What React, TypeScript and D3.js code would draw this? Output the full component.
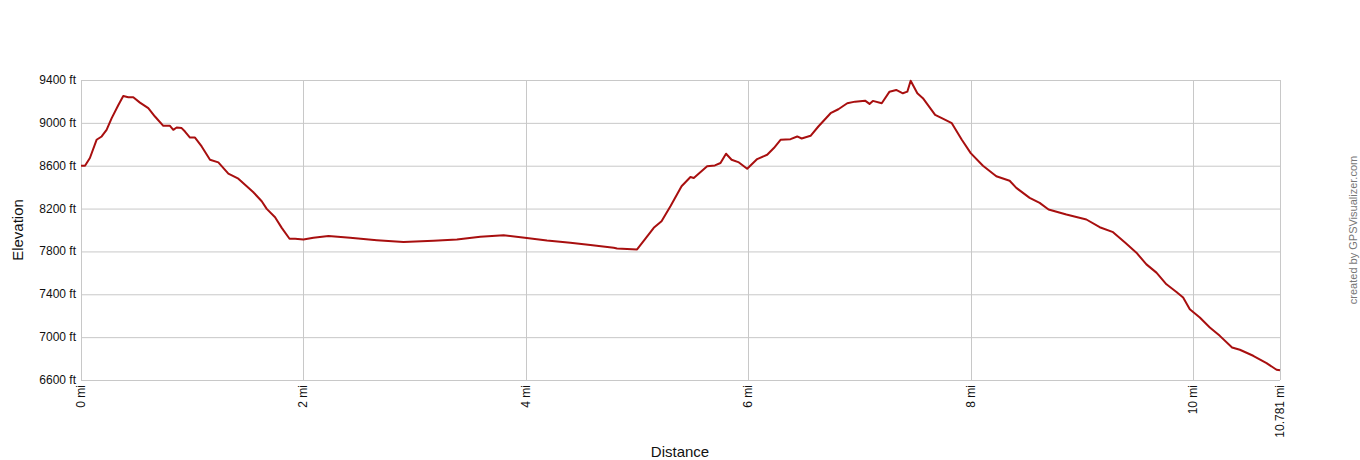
import * as d3 from "d3";
import {useEffect, useRef} from "react";

// trail profile (miles, feet)
const distanceMi = [
    0, 0.036, 0.08, 0.14, 0.186, 0.23, 0.276, 0.336, 0.38, 0.425, 0.47, 0.53, 0.605, 0.665, 0.74, 0.80, 0.83, 0.86,
    0.905, 0.935, 0.98, 1.025, 1.085, 1.16, 1.235, 1.325, 1.415, 1.49, 1.55, 1.625, 1.67, 1.745, 1.805, 1.875, 1.925,
    2.0, 2.09, 2.225, 2.42, 2.66, 2.90, 3.17, 3.38, 3.59, 3.80, 3.99, 4.19, 4.40, 4.58, 4.79, 4.82, 5.0,
    5.07, 5.15, 5.22, 5.30, 5.40, 5.48, 5.51, 5.63, 5.70, 5.75, 5.80, 5.85, 5.91, 5.99, 6.08, 6.17, 6.23, 6.29,
    6.38, 6.44, 6.48, 6.56, 6.63, 6.74, 6.81, 6.89, 6.96, 7.05, 7.09, 7.12, 7.20, 7.27, 7.33, 7.39, 7.43, 7.46,
    7.52, 7.57, 7.68, 7.74, 7.83, 7.92, 8.0, 8.11, 8.23, 8.35, 8.41, 8.53, 8.62, 8.70, 8.86, 9.04, 9.16, 9.28,
    9.39, 9.49, 9.58, 9.67, 9.76, 9.85, 9.91, 9.97, 10.06, 10.15, 10.24, 10.35, 10.42, 10.54, 10.66, 10.75, 10.781
];
const elevationFt = [
    8600, 8600, 8672, 8842, 8873, 8935, 9044, 9167, 9251, 9239, 9239, 9189, 9137, 9059, 8972, 8972, 8935, 8957,
    8951, 8919, 8863, 8863, 8780, 8656, 8631, 8526, 8479, 8408, 8352, 8268, 8197, 8119, 8020, 7918, 7918,
    7912, 7928, 7943, 7928, 7905, 7887, 7900, 7912, 7937, 7952, 7928, 7902, 7881, 7859, 7834, 7828, 7819,
    7912, 8020, 8082, 8222, 8408, 8495, 8486, 8594, 8603, 8625, 8712, 8656, 8634, 8572, 8662, 8702, 8765, 8842,
    8848, 8873, 8854, 8879, 8966, 9090, 9127, 9183, 9198, 9207, 9177, 9205, 9183, 9291, 9307, 9276, 9291, 9393,
    9276, 9230, 9074, 9044, 8997, 8842, 8718, 8600, 8501, 8460, 8393, 8300, 8253, 8191, 8144, 8098, 8026, 7980,
    7881, 7788, 7679, 7602, 7493, 7422, 7369, 7260, 7183, 7090, 7012, 6904, 6882, 6826, 6758, 6696, 6690
];
const yTicks = [6600, 7000, 7400, 7800, 8200, 8600, 9000, 9400];
const xTicks = [0, 2, 4, 6, 8, 10, 10.781];

const W = 1360, H = 460;
const margin = {top: 80, right: 80, bottom: 80, left: 81};

export default function App() {
    const ref = useRef<SVGSVGElement>(null);

    useEffect(() => {
        const svg = d3.select(ref.current).html("");
        const w = W - margin.left - margin.right;
        const h = H - margin.top - margin.bottom;

        const x = d3.scaleLinear().domain([0, 10.781]).range([0, w]);
        const y = d3.scaleLinear().domain([6600, 9400]).range([h, 0]);

        const g = svg.append("g").attr("transform", `translate(${margin.left},${margin.top})`);

        // grid
        g.append("g").selectAll("line").data(yTicks).join("line")
            .attr("x1", 0).attr("x2", w)
            .attr("y1", d => y(d) + 0.5).attr("y2", d => y(d) + 0.5)
            .attr("stroke", "#c8c8c8");
        g.append("g").selectAll("line").data(xTicks).join("line")
            .attr("x1", d => Math.round(x(d)) + 0.5).attr("x2", d => Math.round(x(d)) + 0.5)
            .attr("y1", 0).attr("y2", h)
            .attr("stroke", "#c8c8c8");

        // y labels
        g.append("g").selectAll("text").data(yTicks).join("text")
            .attr("x", -5).attr("y", d => y(d) + 4)
            .attr("text-anchor", "end")
            .attr("font-family", "Arial, 'Liberation Sans', sans-serif")
            .attr("font-size", 12)
            .attr("fill", "#111")
            .text(d => `${d} ft`);

        // x labels (rotated)
        g.append("g").selectAll("text").data(xTicks).join("text")
            .attr("transform", d => `translate(${x(d) + 4},${h + 5}) rotate(-90)`)
            .attr("text-anchor", "end")
            .attr("font-family", "Arial, 'Liberation Sans', sans-serif")
            .attr("font-size", 12)
            .attr("fill", "#111")
            .text(d => `${d} mi`);

        // profile line
        const line = d3.line<number>()
            .x((_, i) => x(distanceMi[i]))
            .y(d => y(d));
        g.append("path")
            .datum(elevationFt)
            .attr("d", line)
            .attr("fill", "none")
            .attr("stroke", "#a80f0f")
            .attr("stroke-width", 2)
            .attr("stroke-linejoin", "round");

        // titles
        svg.append("text")
            .attr("transform", `translate(23,${margin.top + h / 2}) rotate(-90)`)
            .attr("text-anchor", "middle")
            .attr("font-family", "Arial, 'Liberation Sans', sans-serif")
            .attr("font-size", 15)
            .attr("fill", "#111")
            .text("Elevation");
        svg.append("text")
            .attr("x", 680).attr("y", 457)
            .attr("text-anchor", "middle")
            .attr("font-family", "Arial, 'Liberation Sans', sans-serif")
            .attr("font-size", 15)
            .attr("fill", "#111")
            .text("Distance");
        svg.append("text")
            .attr("transform", `translate(1357,230) rotate(-90)`)
            .attr("text-anchor", "middle")
            .attr("font-family", "Arial, 'Liberation Sans', sans-serif")
            .attr("font-size", 11)
            .attr("fill", "#777")
            .text("created by GPSVisualizer.com");
    }, []);

    return (
        <div style={{position: "fixed", top: 0, left: 0, background: "#fff"}}>
            <svg ref={ref} width={W} height={H}/>
        </div>
    );
}
